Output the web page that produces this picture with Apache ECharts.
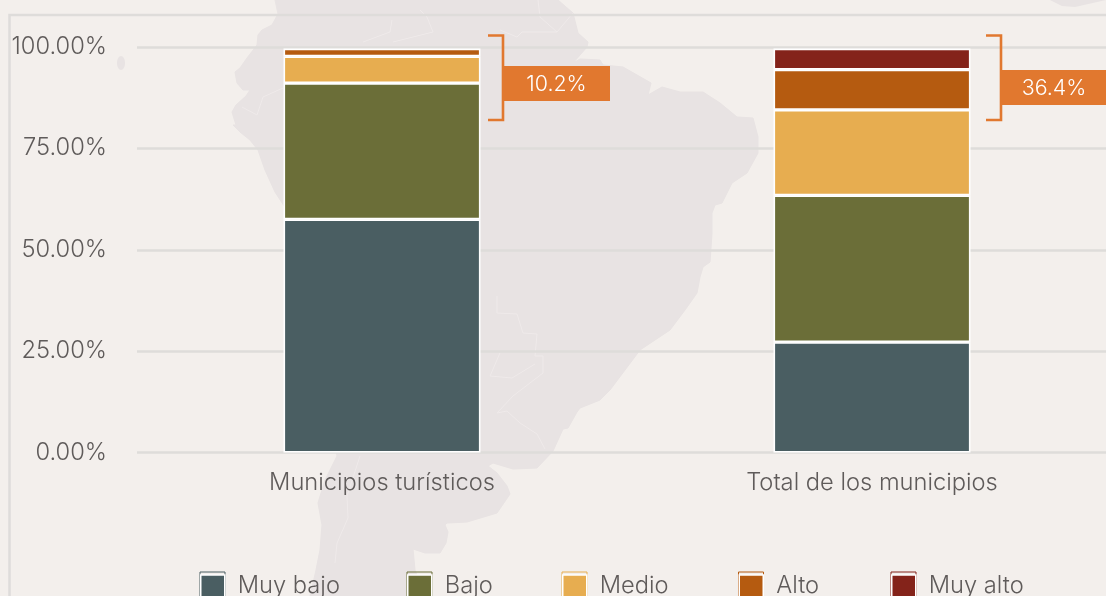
<!DOCTYPE html>
<html><head><meta charset="utf-8">
<style>html,body{margin:0;padding:0;background:#f3efec;overflow:hidden;width:1106px;height:596px}#c{width:1130px;height:596px}</style>
<script src="https://cdn.jsdelivr.net/npm/echarts@6/dist/echarts.min.js"></script>
</head><body><div id="c"></div>
<script>
const categories = ['Municipios turísticos', 'Total de los municipios'];
const seriesNames = ['Muy bajo', 'Bajo', 'Medio', 'Alto', 'Muy alto'];
const muyBajo = [57.5, 27.2];
const bajo = [33.6, 36.2];
const medio = [6.6, 21.1];
const alto = [1.9, 9.9];
const muyAlto = [null, 5.2];
const colors = ['#4a5e62', '#6b6e38', '#e7ad50', '#b55b10', '#84231a'];
const callouts = ['10.2%', '36.4%'];
const FONT = 'Inter';
const WEIGHT = 300;
const SIZE = 23.7;
const TEXT = '#5f5b5a';
const legendLeft = [200, 407, 562, 738.5, 891];

const land = '#e8e3e3';
const borderTone = '#efeaea';
const mapOutline = [[275,0],[278,14],[272,25],[262,30],[258,35],[257,45],[247,58],[240,68],[235,72],[237,83],[243,90],[250,90],[246,96],[236,105],[232,112],[236,125],[233,125],[240,132],[250,140],[258,150],[265,170],[275,192],[290,215],[310,300],[337,456],[325,480],[318,503],[322,525],[320,550],[316,570],[310,596],[425,596],[415,570],[413,549],[425,553],[440,553],[446,543],[448,532],[445,525],[447,523],[467,522],[497,513],[510,494],[507,486],[497,473],[488,466],[493,463],[513,469],[537,468],[553,451],[563,429],[568,428],[577,412],[580,408],[600,400],[610,390],[625,370],[640,350],[670,330],[685,310],[697,293],[700,277],[703,267],[710,262],[712,233],[712,213],[715,205],[722,203],[732,183],[747,173],[758,153],[758,137],[753,118],[737,117],[720,103],[703,92],[680,92],[662,87],[648,95],[651,83],[623,67],[603,65],[600,60],[580,59],[573,63],[587,47],[588,42],[578,33],[573,13],[558,0]];
const topRightBlob = [[1050,0],[1062,6],[1075,7],[1106,0]];
const countryLines = [
  [[360,456],[347,496],[348,518],[337,543],[335,563]],
  [[497,413],[507,411],[520,423],[537,434],[545,449]],
  [[497,296],[497,313],[517,314],[523,333],[537,334],[535,356],[543,356],[543,373],[513,396],[497,413]],
  [[500,353],[490,376],[512,378],[535,364]],
  [[242,107],[257,115],[263,97],[283,88]],
  [[363,42],[390,32],[392,20]],
  [[393,42],[433,32],[427,17],[420,10]],
  [[538,0],[540,17],[557,32],[573,13]],
  [[500,30],[517,37],[522,32],[557,32]]
];

const graphic = [
  {type:'polygon',z:-10,silent:true,shape:{points:mapOutline},style:{fill:land,stroke:land,lineWidth:1,lineJoin:'round'}},
  {type:'polygon',z:-10,silent:true,shape:{points:topRightBlob},style:{fill:land}},
  {type:'ellipse',z:-10,silent:true,shape:{cx:121,cy:63,rx:4,ry:7},style:{fill:land}},
  ...countryLines.map(p=>({type:'polyline',z:-9,silent:true,shape:{points:p},style:{stroke:borderTone,fill:null,lineWidth:1}})),
  {type:'polyline',z:-8,silent:true,shape:{points:[[1130,15],[9.5,15],[9.5,596]]},style:{stroke:'#dedcda',fill:null,lineWidth:2.5}},
  {type:'polyline',z:20,shape:{points:[[488,35.5],[503,35.5],[503,120],[488,120]]},style:{stroke:'#e1782f',fill:null,lineWidth:2.6}},
  {type:'rect',z:20,shape:{x:503,y:66,width:107,height:35},style:{fill:'#e1782f'}},
  {type:'text',z:21,style:{x:556.5,y:84.5,text:callouts[0],fill:'#fff',font:'300 21.4px '+FONT,textAlign:'center',textVerticalAlign:'middle'}},
  {type:'polyline',z:20,shape:{points:[[986,35.5],[1001,35.5],[1001,120],[986,120]]},style:{stroke:'#e1782f',fill:null,lineWidth:2.6}},
  {type:'rect',z:20,shape:{x:1001,y:70,width:129,height:35},style:{fill:'#e1782f'}},
  {type:'text',z:21,style:{x:1054,y:88.5,text:callouts[1],fill:'#fff',font:'300 21.4px '+FONT,textAlign:'center',textVerticalAlign:'middle'}}
];
legendLeft.forEach((x,i)=>graphic.push({type:'rect',z:-5,silent:true,shape:{x:x,y:572,width:25,height:30},style:{fill:'none',stroke:colors[i],lineWidth:1}}));

const values = [muyBajo,bajo,medio,alto,muyAlto];
const chart = echarts.init(document.getElementById('c'),null,{renderer:'canvas'});
chart.setOption({
  animation:false,
  backgroundColor:'#f3efec',
  textStyle:{fontFamily:FONT},
  grid:{left:137,top:47,width:980,height:405.5,containLabel:false},
  graphic:graphic,
  legend:seriesNames.map((n,i)=>({left:legendLeft[i],top:574,padding:0,itemWidth:24,itemHeight:22,icon:'rect',data:[n],
    itemStyle:{borderColor:'#fff',borderWidth:1.5},
    textStyle:{color:TEXT,fontFamily:FONT,fontWeight:WEIGHT,fontSize:SIZE,padding:[0,0,0,8]}})),
  xAxis:{type:'category',data:categories,axisLine:{show:false},axisTick:{show:false},
    axisLabel:{color:TEXT,fontFamily:FONT,fontWeight:WEIGHT,fontSize:SIZE,margin:18}},
  yAxis:{type:'value',min:0,max:100,interval:25,axisLine:{show:false},axisTick:{show:false},
    splitLine:{lineStyle:{color:'#dedcda',width:2.5}},
    axisLabel:{color:TEXT,fontFamily:FONT,fontWeight:WEIGHT,fontSize:SIZE,margin:30,padding:[2,0,0,0],formatter:v=>v.toFixed(2)+'%'}},
  series:seriesNames.map((n,i)=>({name:n,type:'bar',stack:'t',barWidth:197,data:values[i],
    itemStyle:{color:colors[i],borderColor:'#fff',borderWidth:1.6}}))
});
</script></body></html>
